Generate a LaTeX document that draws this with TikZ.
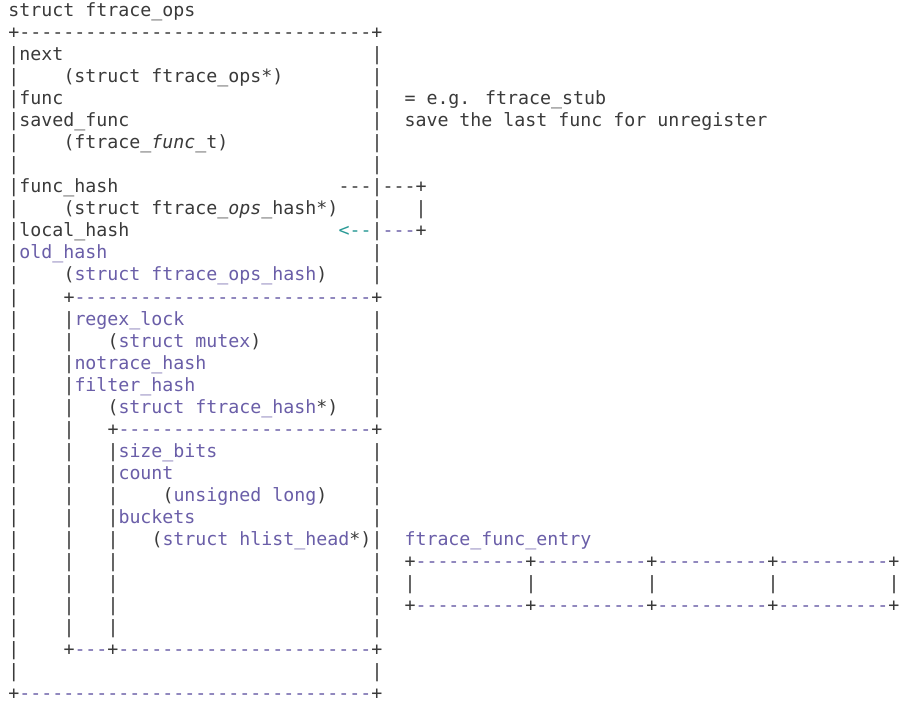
\documentclass[tikz,border=0pt]{standalone}
\usepackage{fontspec}
\newfontfamily\mono{DejaVu Sans Mono}[Ligatures=TeXOff]
\definecolor{dk}{HTML}{3A3A3A}
\definecolor{pu}{HTML}{6A5EA8}
\definecolor{te}{HTML}{2A9A96}
\ExplSyntaxOn
\cs_new:Npn \reptext #1#2 { \prg_replicate:nn {#1} {#2} }
\ExplSyntaxOff
\newcommand\pu[1]{\textcolor{pu}{#1}}
\newcommand\T[3]{\node[txt] at ({8.5+11*(#2)},{-17-22*(#1)}) {#3};}
\tikzset{txt/.style={anchor=base west, inner sep=0pt, outer sep=0pt,
  font=\mono\fontsize{18.27pt}{22pt}\selectfont, text=dk}}
\begin{document}
\begin{tikzpicture}[x=1pt,y=1pt]
\useasboundingbox[fill=white] (0,0) rectangle (910,-703);
% outer box
\T{0}{0}{struct ftrace\_ops}
\T{1}{0}{+\reptext{32}{-}+}
\foreach \r in {2,...,30} {\T{\r}{0}{|}}
\foreach \r in {2,...,12,14,15,16,17,18,20,21,...,28,30} {\T{\r}{33}{|}}
\T{31}{0}{+\pu{\reptext{32}{-}}+}
% fields
\T{2}{1}{next}
\T{3}{5}{(struct ftrace\_ops*)}
\T{4}{1}{func}
\T{4}{36}{= e.g. ftrace\_stub}
\T{5}{1}{saved\_func}
\T{5}{36}{save the last func for unregister}
\T{6}{5}{(ftrace\_{\itshape func}\_t)}
\T{8}{1}{func\_hash}
\T{8}{30}{---}
\T{8}{34}{---+}
\T{9}{5}{(struct ftrace\_{\itshape ops}\_hash*)}
\T{9}{37}{|}
\T{10}{1}{local\_hash}
\T{10}{30}{\textcolor{te}{<--}}
\T{10}{34}{\pu{---}+}
\T{11}{1}{\pu{old\_hash}}
\T{12}{5}{(\pu{struct ftrace\_ops\_hash})}
% ftrace_ops_hash box
\T{13}{5}{+\pu{\reptext{27}{-}}+}
\foreach \r in {14,...,28} {\T{\r}{5}{|}}
\T{14}{6}{\pu{regex\_lock}}
\T{15}{9}{(\pu{struct mutex})}
\T{16}{6}{\pu{notrace\_hash}}
\T{17}{6}{\pu{filter\_hash}}
\T{18}{9}{(\pu{struct ftrace\_hash}*)}
% ftrace_hash box
\T{19}{9}{+\pu{\reptext{23}{-}}+}
\foreach \r in {20,...,28} {\T{\r}{9}{|}}
\T{20}{10}{\pu{size\_bits}}
\T{21}{10}{\pu{count}}
\T{22}{14}{(\pu{unsigned long})}
\T{23}{10}{\pu{buckets}}
\T{24}{13}{(\pu{struct hlist\_head}*)}
\T{29}{5}{+\pu{---}+\pu{\reptext{23}{-}}+}
% ftrace_func_entry
\T{24}{36}{\pu{ftrace\_func\_entry}}
\T{25}{36}{+\pu{\reptext{10}{-}}+\pu{\reptext{10}{-}}+\pu{\reptext{10}{-}}+\pu{\reptext{10}{-}}+}
\foreach \c in {36,47,58,69,80} {\T{26}{\c}{|}}
\T{27}{36}{+\pu{\reptext{10}{-}}+\pu{\reptext{10}{-}}+\pu{\reptext{10}{-}}+\pu{\reptext{10}{-}}+}
\end{tikzpicture}
\end{document}
